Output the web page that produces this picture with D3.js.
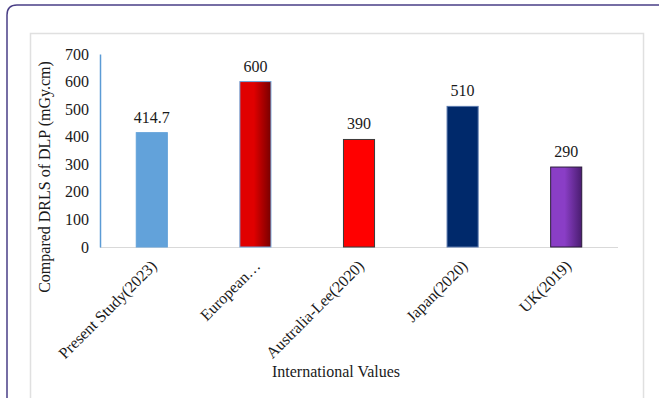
<!DOCTYPE html>
<html>
<head>
<meta charset="utf-8">
<script src="https://cdn.jsdelivr.net/npm/d3@7"></script>
<style>
  html, body { margin: 0; padding: 0; background: #fff; }
  svg { display: block; }
  svg text { font-family: "Liberation Serif", "Times New Roman", serif !important; fill: #1a1a1a; }
</style>
</head>
<body>
<svg id="chart" width="659" height="398"></svg>
<script>
// Compared DRLs of DLP (mGy.cm) by source
const categories = ["Present Study(2023)", "European…", "Australia-Lee(2020)", "Japan(2020)", "UK(2019)"];
const values = [414.7, 600, 390, 510, 290];
const valueLabels = ["414.7", "600", "390", "510", "290"];
const yTicks = [0, 100, 200, 300, 400, 500, 600, 700];

const svg = d3.select("#chart");

// gradient fills
const defs = svg.append("defs");
function hGrad(id, from, to) {
  const g = defs.append("linearGradient").attr("id", id)
    .attr("x1", "0%").attr("x2", "100%").attr("y1", "0%").attr("y2", "0%");
  g.append("stop").attr("offset", "0%").attr("stop-color", from);
  g.append("stop").attr("offset", "45%").attr("stop-color", from);
  g.append("stop").attr("offset", "100%").attr("stop-color", to);
}
hGrad("gRed", "#e00000", "#780000");
hGrad("gPurple", "#8a3ec6", "#4a1d70");

const fills = ["#62a2da", "url(#gRed)", "#ff0000", "#00296b", "url(#gPurple)"];
const strokes = ["#62a2da", "#6fa3d8", "#3a3a3a", "#5a79ad", "#2a1a3a"];

// outer frame with rounded corner
svg.append("path")
  .attr("d", "M7,398 L7,15 Q7,5 17,5 L659,5")
  .attr("fill", "none").attr("stroke", "#4a3f86").attr("stroke-width", 1.5);

// chart area box
svg.append("rect")
  .attr("x", 30.5).attr("y", 33.5).attr("width", 613).attr("height", 400)
  .attr("fill", "#fff").attr("stroke", "#e0e0e0").attr("stroke-width", 1.5);

const plot = { left: 100, right: 618, top: 54, bottom: 247 };

const x = d3.scaleBand()
  .domain(categories)
  .range([plot.left, plot.right])
  .paddingInner(0.7)
  .paddingOuter(0.35);

const y = d3.scaleLinear()
  .domain([0, 700])
  .range([plot.bottom, plot.top]);

// x axis baseline
svg.append("line")
  .attr("x1", plot.left).attr("x2", plot.right)
  .attr("y1", plot.bottom + 0.5).attr("y2", plot.bottom + 0.5)
  .attr("stroke", "#d9d9d9").attr("stroke-width", 1);

// y axis
const yAxis = svg.append("g")
  .attr("transform", `translate(${plot.left},0)`)
  .call(d3.axisLeft(y).tickValues(yTicks).tickSize(0).tickPadding(11).tickFormat(d3.format("d")));
yAxis.attr("font-family", null).attr("font-size", null);
yAxis.select(".domain").attr("stroke", "#5b9bd5").attr("stroke-width", 1.5);
yAxis.selectAll("text")
  .attr("font-size", 16)
  .attr("fill", "#1a1a1a");

// bars
svg.append("g").selectAll("rect")
  .data(values)
  .join("rect")
  .attr("x", (d, i) => x(categories[i]))
  .attr("y", d => y(d))
  .attr("width", x.bandwidth())
  .attr("height", d => y(0) - y(d))
  .attr("fill", (d, i) => fills[i])
  .attr("stroke", (d, i) => strokes[i])
  .attr("stroke-width", 1);

// value labels
svg.append("g").selectAll("text")
  .data(values)
  .join("text")
  .attr("x", (d, i) => x(categories[i]) + x.bandwidth() / 2)
  .attr("y", d => y(d) - 10)
  .attr("text-anchor", "middle")
  .attr("font-size", 16)
  .text((d, i) => valueLabels[i]);

// x category labels, rotated
svg.append("g").selectAll("text")
  .data(categories)
  .join("text")
  .attr("transform", d => `translate(${x(d) + x.bandwidth() / 2 + 2},${plot.bottom + 16}) rotate(-45)`)
  .attr("text-anchor", "end")
  .attr("dy", "0.35em")
  .attr("font-size", 16)
  .text(d => d);

// axis titles
svg.append("text")
  .attr("transform", "translate(50,177) rotate(-90)")
  .attr("text-anchor", "middle")
  .attr("font-size", 16)
  .text("Compared DRLS of DLP (mGy.cm)");

svg.append("text")
  .attr("x", 336).attr("y", 377)
  .attr("text-anchor", "middle")
  .attr("font-size", 16)
  .text("International Values");
</script>
</body>
</html>
